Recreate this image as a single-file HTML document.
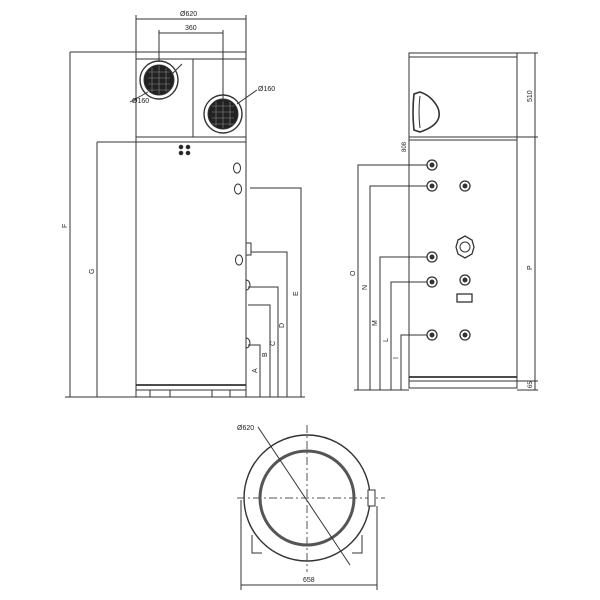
<!DOCTYPE html>
<html><head><style>body{margin:0;background:#fff}svg{display:block}text{font-family:"Liberation Sans",sans-serif;fill:#222}</style></head><body>
<svg width="600" height="600" viewBox="0 0 600 600" stroke="#333" fill="none" stroke-width="1">
<!-- LEFT VIEW -->
<rect x="136" y="52" width="110" height="345"/>
<line x1="136" y1="59" x2="246" y2="59"/>
<line x1="136" y1="137" x2="246" y2="137"/>
<line x1="136" y1="142" x2="246" y2="142"/>
<line x1="193" y1="59" x2="193" y2="137"/>
<line x1="136" y1="385" x2="246" y2="385" stroke-width="1.8"/>
<line x1="136" y1="390" x2="246" y2="390"/>
<path d="M150 390v7M170 390v7M212 390v7M230 390v7"/>
<g><circle cx="159" cy="80" r="19" stroke-width="1.4"/><circle cx="159" cy="80" r="15" fill="#222"/>
<path d="M148 72h22M148 78h22M148 84h22M148 90h22M152 68v24M159 66v28M166 68v24" stroke="#888" stroke-width="0.6"/></g>
<g><circle cx="223" cy="114" r="19" stroke-width="1.4"/><circle cx="223" cy="114" r="15" fill="#222"/>
<path d="M212 106h22M212 112h22M212 118h22M212 124h22M216 102v24M223 100v28M230 102v24" stroke="#888" stroke-width="0.6"/></g>
<line x1="130" y1="102" x2="148" y2="92"/><line x1="172" y1="74" x2="182" y2="64"/>
<line x1="237" y1="104" x2="257" y2="90"/>
<text x="132" y="103" font-size="7" stroke="none">Ø160</text>
<text x="258" y="91" font-size="7" stroke="none">Ø160</text>
<circle cx="181" cy="147" r="1.8" fill="#222"/><circle cx="181" cy="153" r="1.8" fill="#222"/><circle cx="188" cy="147" r="1.8" fill="#222"/><circle cx="188" cy="153" r="1.8" fill="#222"/>
<ellipse cx="237" cy="168" rx="3.5" ry="5"/><ellipse cx="238" cy="189" rx="3.5" ry="5"/>
<rect x="246" y="243" width="5" height="12"/><ellipse cx="239" cy="260" rx="3.5" ry="5"/>
<path d="M246 280a4 5 0 0 1 0 10M246 338a4 5 0 0 1 0 10"/>
<line x1="136" y1="19" x2="246" y2="19"/><path d="M136 15v37M246 15v37"/>
<text x="180" y="16" font-size="7" stroke="none">Ø620</text>
<line x1="159" y1="33" x2="223" y2="33"/><path d="M159 30v32M223 30v72"/>
<text x="185" y="30" font-size="7" stroke="none">360</text>
<line x1="70" y1="52" x2="70" y2="397"/><line x1="70" y1="52" x2="136" y2="52"/>
<line x1="97" y1="142" x2="97" y2="397"/><line x1="97" y1="142" x2="136" y2="142"/>
<line x1="65" y1="397" x2="305" y2="397"/>
<text x="67" y="228" font-size="7" stroke="none" transform="rotate(-90 67 228)">F</text>
<text x="94" y="274" font-size="7" stroke="none" transform="rotate(-90 94 274)">G</text>
<path d="M250 188H301V397M251 252H287V397M248 287H278V397M248 305H270V397M248 345H260V397"/>
<text x="298" y="296" font-size="7" stroke="none" transform="rotate(-90 298 296)">E</text>
<text x="284" y="328" font-size="7" stroke="none" transform="rotate(-90 284 328)">D</text>
<text x="275" y="346" font-size="7" stroke="none" transform="rotate(-90 275 346)">C</text>
<text x="267" y="357" font-size="7" stroke="none" transform="rotate(-90 267 357)">B</text>
<text x="257" y="373" font-size="7" stroke="none" transform="rotate(-90 257 373)">A</text>
<!-- RIGHT VIEW -->
<rect x="409" y="53" width="108" height="335"/>
<line x1="409" y1="57" x2="517" y2="57"/>
<line x1="409" y1="137" x2="517" y2="137"/><line x1="409" y1="140" x2="517" y2="140"/>
<line x1="409" y1="377" x2="517" y2="377" stroke-width="1.8"/><line x1="409" y1="381" x2="517" y2="381"/>
<path d="M414 94Q412 112 414 130L420 132Q444 124 438 108Q432 96 420 92Z" stroke-width="1.6"/>
<path d="M420 96Q418 112 420 128"/>
<g stroke-width="1.3"><circle cx="432" cy="165" r="5"/><circle cx="432" cy="186" r="5"/><circle cx="432" cy="257" r="5"/><circle cx="432" cy="282" r="5"/><circle cx="432" cy="335" r="5"/>
<circle cx="465" cy="186" r="5"/><circle cx="465" cy="280" r="5"/><circle cx="465" cy="335" r="5"/></g>
<g fill="#333" stroke="none"><circle cx="432" cy="165" r="2.5"/><circle cx="432" cy="186" r="2.5"/><circle cx="432" cy="257" r="2.5"/><circle cx="432" cy="282" r="2.5"/><circle cx="432" cy="335" r="2.5"/>
<circle cx="465" cy="186" r="2.5"/><circle cx="465" cy="280" r="2.5"/><circle cx="465" cy="335" r="2.5"/></g>
<path d="M458 240L465 236L472 240L474 247L472 254L465 258L458 254L456 247Z" stroke-width="1.3"/><circle cx="465" cy="247" r="5"/>
<rect x="457" y="294" width="15" height="8" stroke-width="1.3"/>
<path d="M427 165H358V390M427 186H370V390M427 257H380V390M427 282H391V390M427 335H401V390M354 390H409"/>
<text x="355" y="276" font-size="7" stroke="none" transform="rotate(-90 355 276)">O</text>
<text x="367" y="290" font-size="7" stroke="none" transform="rotate(-90 367 290)">N</text>
<text x="377" y="326" font-size="7" stroke="none" transform="rotate(-90 377 326)">M</text>
<text x="388" y="342" font-size="7" stroke="none" transform="rotate(-90 388 342)">L</text>
<text x="398" y="359" font-size="7" stroke="none" transform="rotate(-90 398 359)">I</text>
<text x="406" y="152" font-size="6" stroke="none" transform="rotate(-90 406 152)">808</text>
<path d="M535 53V390M517 53H538M517 137H538M517 381H538M517 390H538"/>
<text x="532" y="102" font-size="7" stroke="none" transform="rotate(-90 532 102)">510</text>
<text x="532" y="270" font-size="7" stroke="none" transform="rotate(-90 532 270)">P</text>
<text x="532" y="388" font-size="6" stroke="none" transform="rotate(-90 532 388)">65</text>
<!-- BOTTOM VIEW -->
<path d="M252 535V553H262M362 535V553H352"/>
<circle cx="307" cy="498" r="63" stroke-width="1.4" fill="#fff"/>
<path d="M237 498H385M307 425V572" stroke-dasharray="8 3 2 3" stroke="#555"/>
<circle cx="307" cy="498" r="47" stroke-width="3" stroke="#555"/>
<rect x="368" y="490" width="7" height="16" fill="#fff"/>
<line x1="258" y1="427" x2="350" y2="565"/>
<text x="237" y="430" font-size="7" stroke="none">Ø620</text>
<path d="M241 500V590M377 506V590M241 585H377"/>
<text x="303" y="582" font-size="7" stroke="none">658</text>
</svg>
</body></html>
